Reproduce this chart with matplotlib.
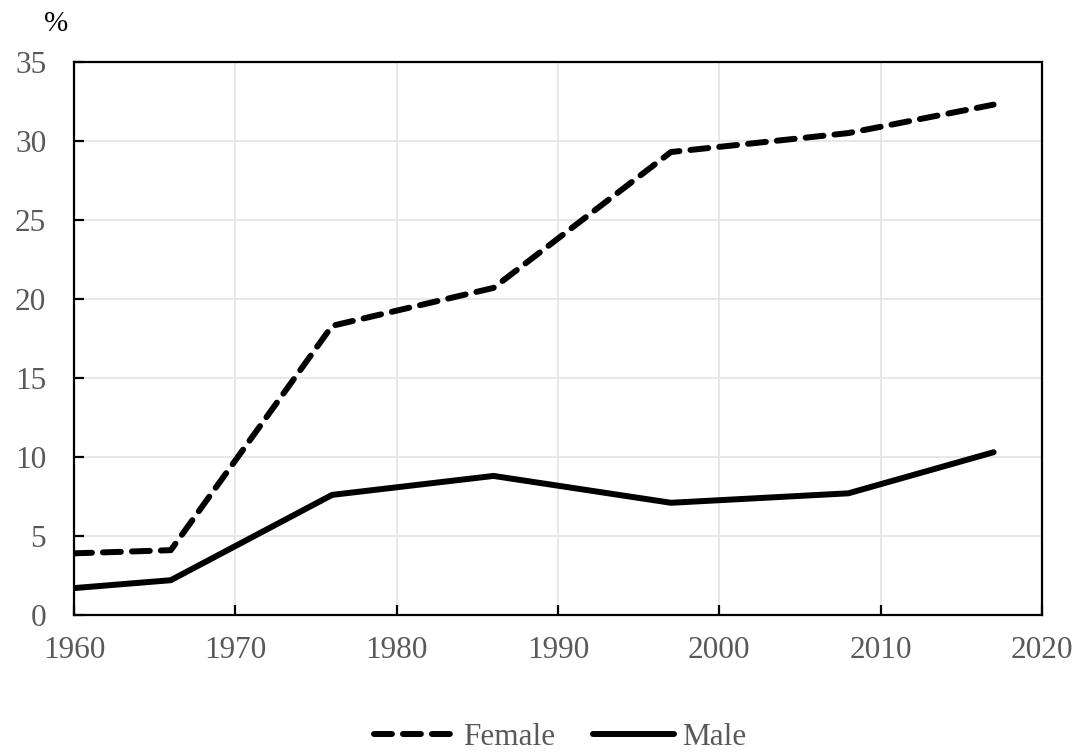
import numpy as np
import matplotlib
matplotlib.use('Agg')
import matplotlib.pyplot as plt

plt.rcParams['font.family'] = ['Liberation Serif', 'DejaVu Serif']

years = [1960, 1966, 1976, 1986, 1997, 2008, 2017]
female = [3.9, 4.1, 18.3, 20.7, 29.3, 30.5, 32.3]
male = [1.7, 2.2, 7.6, 8.8, 7.1, 7.7, 10.3]
xticks = [1960, 1970, 1980, 1990, 2000, 2010, 2020]
yticks = [0, 5, 10, 15, 20, 25, 30, 35]

label_col = '#595959'

fig = plt.figure(figsize=(10.77, 7.54), dpi=100)
ax = fig.add_axes([0.0687, 0.1844, 0.8988, 0.7334])

ax.plot(years, female, color='black', lw=4.3, ls=(0, (3.0, 1.85)),
        dash_capstyle='round', solid_capstyle='round', label='Female')
ax.plot(years, male, color='black', lw=4.3, solid_capstyle='round',
        label='Male')

ax.set_xlim(1960, 2020)
ax.set_ylim(0, 35)
ax.set_xticks(xticks)
ax.set_yticks(yticks)
ax.grid(True, color='#e6e6e6', lw=1.3)
ax.set_axisbelow(True)
for s in ax.spines.values():
    s.set_linewidth(1.6)
    s.set_color('black')
ax.tick_params(axis='both', direction='in', length=7, width=1.6,
               labelsize=22.5, labelcolor=label_col)
ax.tick_params(axis='y', pad=20)
ax.tick_params(axis='x', pad=15)

fig.text(0.052, 0.968, '%', fontsize=21, ha='center', va='center',
         color='black')

fig.legend(loc='center', bbox_to_anchor=(0.52, 0.022), ncol=2,
           frameon=False, fontsize=22.5, handlelength=2.6,
           handletextpad=0.25, columnspacing=1.2, labelcolor=label_col)

fig.savefig('out.png', dpi=100)
